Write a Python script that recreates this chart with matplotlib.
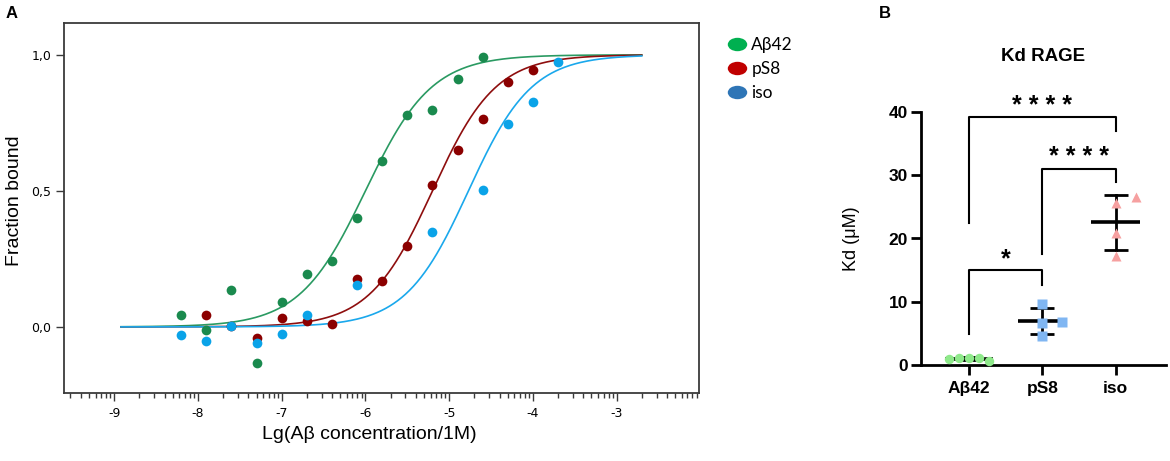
import numpy as np
import matplotlib
matplotlib.use("Agg")
import matplotlib.pyplot as plt
from matplotlib.lines import Line2D
from matplotlib.path import Path

# ---------------- Panel A data ----------------
series_names = ["Aβ42", "pS8", "iso"]
ab42_x = [-8.2, -7.9, -7.6, -7.3, -7.0, -6.7, -6.4, -6.1, -5.8, -5.5, -5.2, -4.9, -4.6]
ab42_y = [0.042, -0.011, 0.135, -0.131, 0.091, 0.195, 0.243, 0.40, 0.608, 0.778, 0.797, 0.912, 0.993]
ps8_x = [-7.9, -7.6, -7.3, -7.0, -6.7, -6.4, -6.1, -5.8, -5.5, -5.2, -4.9, -4.6, -4.3, -4.0]
ps8_y = [0.045, 0.003, -0.039, 0.031, 0.020, 0.010, 0.176, 0.167, 0.296, 0.521, 0.652, 0.764, 0.899, 0.945]
iso_x = [-8.2, -7.9, -7.6, -7.3, -7.0, -6.7, -6.1, -5.2, -4.6, -4.3, -4.0, -3.7]
iso_y = [-0.031, -0.052, 0.005, -0.058, -0.025, 0.045, 0.155, 0.348, 0.504, 0.747, 0.828, 0.974]
# fitted sigmoid parameters (log EC50, Hill slope)
fit_logec50 = [-6.0, -5.2, -4.77]
fit_hill = [1.1, 1.15, 1.15]
fit_range = [-8.92, -2.70]
xtick_vals = [-9, -8, -7, -6, -5, -4, -3]
ytick_vals = [0.0, 0.5, 1.0]
ytick_labels = ["0,0", "0,5", "1,0"]

# ---------------- Panel B data ----------------
groups = ["Aβ42", "pS8", "iso"]
kd_ab42 = [1.04, 1.2, 1.2, 1.15, 0.63]
kd_ps8 = [9.6, 6.6, 4.7, 6.9]
kd_iso = [25.6, 20.8, 17.2, 26.5]
jit_ab42 = [-0.27, -0.135, 0.0, 0.135, 0.27]
jit_ps8 = [0.0, 0.0, 0.0, 0.27]
jit_iso = [0.0, 0.0, 0.0, 0.28]
# significance brackets: (g1, g2, left-leg bottom, top, right-leg bottom, label)
brackets = [
    (0, 1, 4.9, 15.0, 12.6, "*"),
    (1, 2, 17.5, 31.0, 28.85, "* * * *"),
    (0, 2, 22.5, 39.15, 37.0, "* * * *"),
]

W, H = 1170, 461
fig = plt.figure(figsize=(W / 100, H / 100), dpi=100)

# ================= Panel A =================
axA = fig.add_axes([64 / W, 1 - 393 / H, (698.7 - 64) / W, (393 - 23) / H])
pt_colors = ["#1a8a4e", "#8b0000", "#0aa3e8"]
ln_colors = ["#2a9a62", "#8e0e0e", "#1aa8ec"]
xs_fit = np.linspace(fit_range[0], fit_range[1], 400)
for i in range(3):
    yfit = 1.0 / (1.0 + 10 ** ((fit_logec50[i] - xs_fit) * fit_hill[i]))
    axA.plot(xs_fit, yfit, color=ln_colors[i], lw=1.2, zorder=2)
axA.plot(ab42_x, ab42_y, 'o', color=pt_colors[0], ms=7, mec='none', zorder=3)
axA.plot(ps8_x, ps8_y, 'o', color=pt_colors[1], ms=7, mec='none', zorder=4)
axA.plot(iso_x, iso_y, 'o', color=pt_colors[2], ms=7, mec='none', zorder=5)

axA.set_xlim(-9.6, -2.02)
axA.set_ylim(-0.243, 1.117)
axA.set_xticks(xtick_vals)
axA.set_xticklabels([str(v) for v in xtick_vals])
minor = [n + np.log10(k) for n in range(-10, -2) for k in range(2, 10)]
minor = [m for m in minor if -9.6 < m < -2.0]
axA.set_xticks(minor, minor=True)
axA.set_yticks(ytick_vals)
axA.set_yticklabels(ytick_labels)
for s in axA.spines.values():
    s.set_color("#3a3a3a")
    s.set_linewidth(1.3)
axA.tick_params(axis='x', which='major', length=6, width=1.0, color="#3a3a3a",
                labelsize=9, pad=4)
axA.tick_params(axis='x', which='minor', length=3.5, width=1.0, color="#3a3a3a")
axA.tick_params(axis='y', which='major', length=6, width=1.0, color="#3a3a3a",
                labelsize=9, pad=3)
fig.text(369 / W, 1 - 434 / H, "Lg(Aβ concentration/1M)", ha='center', va='center',
         fontsize=14, family="Liberation Sans")
fig.text(15 / W, 1 - 201 / H, "Fraction bound", ha='center', va='center', rotation=90,
         fontsize=14, family="Liberation Sans")
fig.text(12 / W, 1 - 14 / H, "A", ha='center', va='center', fontsize=12,
         fontweight='bold', family="Liberation Sans")

circ = Path.unit_circle()
ellipse = Path(circ.vertices * np.array([1.45, 1.0]), circ.codes)
leg_colors = ["#00b050", "#c00000", "#2e75b6"]
handles = [Line2D([], [], marker=ellipse, ls='', color=c, ms=14, mec='none') for c in leg_colors]
fig.legend(handles, series_names, loc='upper left', bbox_to_anchor=(727 / W, 1 - 37 / H),
           frameon=False, prop={'family': 'Lato', 'size': 12.5}, handletextpad=0.2,
           labelspacing=0.45, borderaxespad=0, borderpad=0, handlelength=1.2)

# ================= Panel B =================
axB = fig.add_axes([920.7 / W, 1 - 365.3 / H, (1166 - 920.7) / W, (365.3 - 111.7) / H])
axB.set_xlim(-0.658, 2.686)
axB.set_ylim(0, 40)
for s in ["top", "right"]:
    axB.spines[s].set_visible(False)
for s in ["left", "bottom"]:
    axB.spines[s].set_linewidth(2.0)
axB.set_yticks([0, 10, 20, 30, 40])
axB.set_xticks([0, 1, 2])
axB.set_xticklabels(groups)
axB.tick_params(axis='both', length=7, width=2.0, labelsize=12.5)
axB.tick_params(axis='y', pad=2)
axB.tick_params(axis='x', pad=4)
for lab in axB.get_xticklabels() + axB.get_yticklabels():
    lab.set_fontweight('bold')
    lab.set_family("Liberation Sans")
axB.set_ylabel("Kd (μM)", fontsize=13, family="Liberation Sans")
axB.yaxis.set_label_coords((860 - 920.7) / (1166 - 920.7), 0.5)
axB.set_title("Kd RAGE", fontsize=13.5, fontweight='bold', family="Liberation Sans", pad=36.5)

vals = [kd_ab42, kd_ps8, kd_iso]
jits = [jit_ab42, jit_ps8, jit_iso]
mk = ['o', 's', '^']
msz = [6.8, 7.3, 7.8]
mcol = ["#8ee98a", "#80b6f2", "#f6a0a0"]
for i in range(3):
    v = np.array(vals[i])
    m = v.mean()
    sd = v.std(ddof=1)
    axB.plot([i - 0.33, i + 0.33], [m, m], color='black', lw=2.6, zorder=3, solid_capstyle='butt')
    axB.plot([i, i], [m - sd, m + sd], color='black', lw=2.0, zorder=3)
    for yy in (m - sd, m + sd):
        axB.plot([i - 0.165, i + 0.165], [yy, yy], color='black', lw=2.0, zorder=3,
                 solid_capstyle='butt')
    axB.plot(np.array(jits[i]) + i, v, mk[i], color=mcol[i], ms=msz[i],
             mec='none', zorder=4, clip_on=False)

for g1, g2, b1, top, b2, lab in brackets:
    axB.plot([g1, g1, g2, g2], [b1, top, top, b2], color='black', lw=1.5,
             clip_on=False, zorder=2)
    axB.text((g1 + g2) / 2, top - 0.1, lab, ha='center', va='bottom', fontsize=18,
             fontweight='bold', family="Liberation Sans", clip_on=False)

fig.text(885 / W, 1 - 14 / H, "B", ha='center', va='center', fontsize=12,
         fontweight='bold', family="Liberation Sans")

fig.savefig("out.png", dpi=100)
